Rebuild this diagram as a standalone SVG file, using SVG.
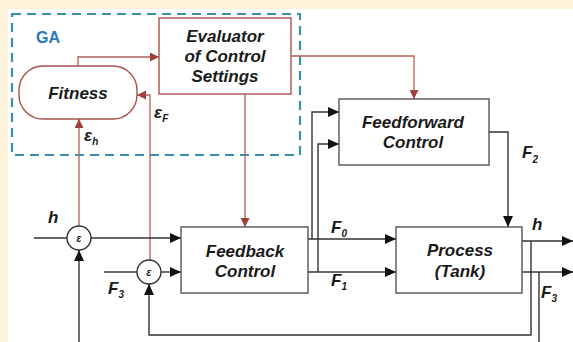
<svg xmlns="http://www.w3.org/2000/svg" width="573" height="342" viewBox="0 0 573 342">
<style>
.t{font-family:"Liberation Sans",Arial,sans-serif;font-weight:bold;font-style:italic;fill:#1a1a1a}
.c{text-anchor:middle;font-size:17px}
.lb{font-size:17px}
.sub{font-size:10px}
.box{fill:#fff;stroke:#555;stroke-width:1.4}
.rbox{fill:#fff;stroke:#a9504b;stroke-width:1.4}
.k{fill:none;stroke:#333;stroke-width:1.4}
.r{fill:none;stroke:#b0605b;stroke-width:1.3}
</style>
<defs>
<marker id="ak" markerUnits="userSpaceOnUse" markerWidth="12" markerHeight="10" refX="11" refY="5" orient="auto">
<path d="M0,0 L11,5 L0,10 Z" fill="#111"/>
</marker>
<marker id="ar" markerUnits="userSpaceOnUse" markerWidth="10" markerHeight="9" refX="9" refY="4.5" orient="auto">
<path d="M0,0 L9,4.5 L0,9 Z" fill="#a0403a"/>
</marker>
</defs>
<rect x="0" y="0" width="573" height="342" fill="#fdf3da"/>
<rect x="8" y="9" width="565" height="333" fill="#fff"/>

<g id="ga">
<rect x="12" y="14" width="288" height="141" fill="none" stroke="#3a90a8" stroke-width="2.2" stroke-dasharray="9,6"/>
<text x="36" y="43" style="font-family:'Liberation Sans',Arial,sans-serif;font-weight:bold;font-size:16px;fill:#2b78b8">GA</text>
</g>

<g id="connectors">
<!-- red -->
<polyline class="r" points="78,66 78,57 159,57" marker-end="url(#ar)"/>
<polyline class="r" points="150,260 150,95 137,95" marker-end="url(#ar)"/>
<line class="r" x1="79" y1="226" x2="79" y2="119" marker-end="url(#ar)"/>
<line class="r" x1="245" y1="94" x2="245" y2="227" marker-end="url(#ar)"/>
<polyline class="r" points="291,56 414,56 414,99" marker-end="url(#ar)"/>
<!-- black -->
<line class="k" x1="34" y1="238" x2="67" y2="238"/>
<line class="k" x1="91" y1="238" x2="181" y2="238" marker-end="url(#ak)"/>
<line class="k" x1="104" y1="272" x2="137" y2="272"/>
<line class="k" x1="161" y1="272" x2="181" y2="272" marker-end="url(#ak)"/>
<line class="k" x1="308" y1="239" x2="396" y2="239" marker-end="url(#ak)"/>
<line class="k" x1="308" y1="272" x2="396" y2="272" marker-end="url(#ak)"/>
<polyline class="k" points="312,239 312,112 339,112" marker-end="url(#ak)"/>
<polyline class="k" points="318,272 318,144 339,144" marker-end="url(#ak)"/>
<polyline class="k" points="489,132 508,132 508,227" marker-end="url(#ak)"/>
<line class="k" x1="522" y1="241" x2="573" y2="241" marker-end="url(#ak)"/>
<line class="k" x1="522" y1="272" x2="573" y2="272" marker-end="url(#ak)"/>
<polyline class="k" points="531,241 531,335 149,335 149,284" marker-end="url(#ak)"/>
<line class="k" x1="539" y1="272" x2="539" y2="342"/>
<line class="k" x1="79" y1="342" x2="79" y2="250" marker-end="url(#ak)"/>
</g>

<g id="evaluator">
<rect class="rbox" x="159" y="18" width="132" height="76"/>
<text class="t c" x="225" y="42">Evaluator</text>
<text class="t c" x="225" y="62">of Control</text>
<text class="t c" x="225" y="82">Settings</text>
</g>

<g id="fitness">
<rect class="rbox" x="19" y="66" width="118" height="53" rx="24" ry="24"/>
<text class="t c" x="78" y="99">Fitness</text>
</g>

<g id="feedforward">
<rect class="box" x="339" y="99" width="150" height="66"/>
<text class="t c" x="413" y="128">Feedforward</text>
<text class="t c" x="413" y="148">Control</text>
</g>

<g id="feedback">
<rect class="box" x="181" y="227" width="127" height="66"/>
<text class="t c" x="245" y="257">Feedback</text>
<text class="t c" x="245" y="277">Control</text>
</g>

<g id="process">
<rect class="box" x="396" y="227" width="126" height="66"/>
<text class="t c" x="460" y="256">Process</text>
<text class="t c" x="460" y="277">(Tank)</text>
</g>

<g id="sum1">
<circle cx="79" cy="238" r="12" fill="#fff" stroke="#333" stroke-width="1.4"/>
<text class="t" x="79" y="242" style="font-size:10px;text-anchor:middle">ε</text>
</g>
<g id="sum2">
<circle cx="149" cy="272" r="12" fill="#fff" stroke="#333" stroke-width="1.4"/>
<text class="t" x="149" y="276" style="font-size:10px;text-anchor:middle">ε</text>
</g>

<g id="labels">
<text class="t lb" x="48" y="223">h</text>
<text class="t lb" x="108" y="294">F<tspan class="sub" dy="4">3</tspan></text>
<text class="t lb" x="84" y="141">ε<tspan class="sub" dy="4">h</tspan></text>
<text class="t lb" x="154" y="118">ε<tspan class="sub" dy="4">F</tspan></text>
<text class="t lb" x="331" y="233">F<tspan class="sub" dy="4">0</tspan></text>
<text class="t lb" x="331" y="286">F<tspan class="sub" dy="4">1</tspan></text>
<text class="t lb" x="522" y="158">F<tspan class="sub" dy="5">2</tspan></text>
<text class="t lb" x="532" y="230">h</text>
<text class="t lb" x="541" y="298">F<tspan class="sub" dy="4">3</tspan></text>
</g>
</svg>
